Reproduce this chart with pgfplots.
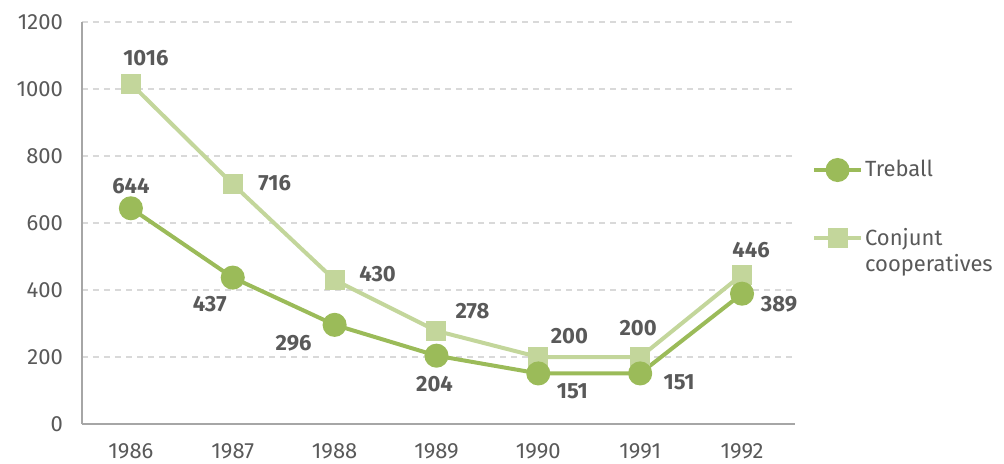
\documentclass[border=0pt]{standalone}
\usepackage{fontspec}
\setmainfont{Fira Sans}
\usepackage{pgfplots}
\usepackage{pgfplotstable}
\pgfplotsset{compat=1.18}

\definecolor{treball}{HTML}{9BBB59}
\definecolor{conjunt}{HTML}{C3D69B}
\definecolor{txt}{HTML}{595959}
\definecolor{gridc}{HTML}{D9D9D9}
\definecolor{axc}{HTML}{A6A6A6}

% x = year index (1986 = 0), dx/dy = label offset in pt
\pgfplotstableread{
x y dx dy
0 644 0 11
1 437 -11.5 -13
2 296 -20.5 -9
3 204 -1 -14
4 151 17 -9
5 151 19.5 -4.5
6 389 18.5 -5.5
}\treball

\pgfplotstableread{
x y dx dy
0 1016 7.5 13
1 716 21 0.5
2 430 21.5 3
3 278 18 10
4 200 15.5 10.5
5 200 -1 14.5
6 446 4.5 12.5
}\conjunt

\newcommand{\fs}{\fontsize{11}{13}\selectfont}

\begin{document}
\begin{tikzpicture}
\begin{axis}[
    scale only axis,
    width=356.5pt, height=201pt,
    xmin=-0.48, xmax=6.52,
    ymin=0, ymax=1200,
    ytick={0,200,...,1200},
    xtick={0,...,6},
    xticklabels={1986,1987,1988,1989,1990,1991,1992},
    axis x line*=bottom, axis y line*=left,
    axis line style={axc, line width=0.75pt, -},
    major tick length=0pt,
    ymajorgrids=true,
    major grid style={gridc, line width=0.6pt, dash pattern=on 3pt off 2.5pt},
    tick label style={font=\fs, text=txt},
    yticklabel style={xshift=-6pt},
    xticklabel style={yshift=-6pt},
    /pgf/number format/assume math mode=true,
    /pgf/number format/.cd, fixed, precision=0, 1000 sep={},
    /pgfplots/.cd,
    nodes near coords,
    visualization depends on={\thisrow{dx} \as \dx},
    visualization depends on={\thisrow{dy} \as \dy},
    nodes near coords style={font=\fs\bfseries, text=txt, anchor=center,
        xshift=\dx pt, yshift=\dy pt},
    legend style={draw=none, fill=none, at={(1.015,0.672)}, anchor=north west,
        font=\fs, text=txt, row sep=22pt, nodes={inner sep=1pt}},
    legend cell align=left,
    legend image code/.code={
        \draw[mark repeat=2, mark phase=2, #1]
            plot coordinates {(0pt,0pt) (11.75pt,0pt) (23.5pt,0pt)};
    },
    clip=false,
]
\addplot[conjunt, line width=2pt, mark=square*, mark size=4pt,
    mark options={fill=conjunt, draw=conjunt}, forget plot]
    table[x=x, y=y] {\conjunt};
\addplot[treball, line width=2pt, mark=*, mark size=5pt,
    mark options={fill=treball, draw=treball}]
    table[x=x, y=y] {\treball};
\addlegendentry{Treball}
\addlegendimage{conjunt, line width=2pt, mark=square*, mark size=4pt,
    mark options={fill=conjunt, draw=conjunt}}
\addlegendentry{\begin{tabular}[t]{@{}l@{}}Conjunt\\cooperatives\end{tabular}}
\end{axis}
\pgfresetboundingbox
\path[use as bounding box] ([shift={(-41pt,-19.5pt)}]current axis.south west)
    rectangle ([shift={(461pt,212pt)}]current axis.south west);
\end{tikzpicture}
\end{document}
